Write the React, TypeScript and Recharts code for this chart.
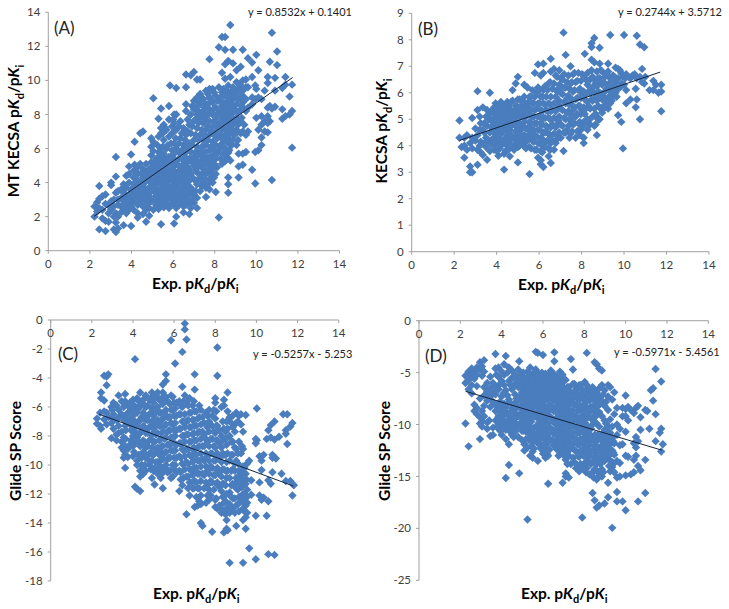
import { ScatterChart, Scatter, XAxis, YAxis } from "recharts"

// each row is [x, y, y, y...]
const columnsA: number[][] = [
  [2.22, 2.6, 2.0], [2.35, 2.3, 2.85], [2.45, 3.8, 1.25, 2.5, 3.05], [2.6, 3.2, 2.4, 1.9], [2.75, 1.15, 1.75, 2.75, 3.3],
  [2.9, 2.2, 2.65, 1.7], [3.02, 3.85, 4.0, 2.4, 2.9], [3.15, 3.0, 2.6, 2.0, 1.25], [3.25, 5.5, 4.35, 3.4, 2.2, 1.65, 1.1],
  [3.35, 3.5, 3.0, 2.7, 1.3, 2.0], [3.5, 3.6, 3.1, 2.6, 2.25], [3.62, 1.5, 3.9, 3.4, 2.9, 2.45], [3.75, 4.4, 3.7, 3.1, 2.7, 2.2],
  [3.88, 4.95, 4.5, 4.0, 3.3, 2.85, 2.4], [3.98, 5.65, 1.45, 3.6, 3.1, 2.6], [4.1, 4.7, 4.3, 3.9, 3.4, 2.9, 2.4], [4.15, 6.4, 5.05],
  [4.3, 4.95, 4.5, 4.1, 3.6, 3.2, 2.7, 2.2, 1.95], [4.42, 6.9, 5.1, 3.85, 3.35, 2.9], [4.55, 7.0, 4.8, 4.3, 3.9, 3.5, 2.6, 2.15],
  [4.7, 5.1, 4.55, 4.1, 3.3, 2.9, 2.4, 1.7], [4.85, 4.8, 4.4, 3.7, 3.2, 2.5, 2.05], [4.95, 6.6, 6.1, 5.6, 5.2, 4.2, 3.8, 2.9],
  [5.05, 8.95, 6.4, 5.85, 5.0, 4.6, 3.5, 2.4], [5.18, 5.4, 4.85, 4.3, 3.9, 3.2, 2.7], [5.3, 7.75, 6.7, 5.8, 5.1, 4.6, 4.1, 3.5, 3.0, 2.45],
  [5.42, 8.35, 7.2, 6.9, 6.0, 5.4, 4.9, 4.4, 3.85, 3.3, 2.7, 1.55], [5.55, 7.4, 6.5, 5.7, 5.2, 4.7, 4.15, 3.6, 3.05, 2.55],
  [5.68, 7.1, 6.0, 5.0, 4.45, 3.9, 3.3, 2.8], [5.8, 8.5, 7.7, 6.7, 5.5, 4.7, 4.1, 3.55, 2.5], [5.85, 9.7], [5.95, 7.3, 6.9, 5.9, 5.1, 4.4, 3.8, 3.0],
  [6.05, 8.0, 7.5, 6.3, 5.4, 4.7, 4.1, 3.4, 2.7, 1.6], [6.15, 9.55, 8.0, 7.1, 6.0, 5.1, 4.5, 3.8, 3.1, 2.5, 2.0], [6.35, 7.6, 6.6, 5.7, 4.9, 4.2, 3.55, 2.85],
  [6.5, 7.2, 6.2, 5.3, 4.7, 4.0, 3.3, 2.6, 2.25], [6.62, 10.35, 9.6, 8.6, 8.2, 6.8, 5.8, 5.0, 4.4, 3.7, 3.0, 2.7], [6.78, 7.4, 6.3, 5.4, 4.8, 4.1, 3.4, 2.8, 2.15],
  [6.85, 10.3, 8.0, 6.9, 5.8, 4.5, 3.7, 2.5], [7.0, 10.5, 8.8, 8.3, 7.6, 6.5, 5.5, 5.0, 4.2, 3.3, 2.8], [7.15, 10.05, 9.0, 8.0, 7.2, 6.1, 5.3, 4.6, 3.9, 3.1, 2.5],
  [7.3, 10.05, 9.2, 8.6, 7.8, 6.8, 5.8, 5.0, 4.3, 3.5], [7.45, 8.9, 8.2, 7.5, 6.5, 5.5, 4.8, 4.0], [7.58, 9.4, 8.6, 7.9, 7.1, 6.2, 5.2, 4.5, 3.7, 3.15],
  [7.75, 11.25, 9.5, 9.0, 8.3, 7.6, 6.8, 5.9, 5.0, 4.2, 3.6], [7.9, 9.5, 8.7, 8.0, 7.3, 6.4, 5.6, 4.8, 4.0], [8.05, 9.1, 8.4, 7.7, 7.0, 6.2, 5.4, 4.5, 3.45],
  [8.2, 11.95, 9.6, 8.8, 8.1, 7.4, 6.7, 5.9, 1.95], [8.35, 12.55, 10.45, 9.3, 8.5, 7.8, 7.1, 6.3, 5.1], [8.5, 12.55, 11.8, 10.95, 10.1, 9.1, 8.3, 7.6, 6.8, 6.0, 5.25],
  [8.65, 11.15, 9.7, 8.8, 8.1, 7.3, 6.6, 5.75, 4.3, 3.9, 3.4], [8.75, 13.25, 10.2, 9.2, 8.5, 7.8, 7.0, 6.2, 5.3], [8.88, 11.8, 11.0, 9.6, 8.9, 8.1, 7.4, 6.5],
  [9.05, 10.6, 9.9, 9.3, 8.6, 7.8, 7.1, 6.2], [9.15, 5.7, 4.95, 4.3], [9.25, 10.8, 9.7, 9.0, 8.3, 7.6, 6.9], [9.35, 11.8, 10.0, 9.4, 8.7, 7.0, 5.05, 5.7],
  [9.5, 10.05, 9.6, 8.9, 8.2, 6.8, 5.8], [9.6, 11.3, 9.6, 8.4, 7.0], [9.8, 11.05, 10.2, 9.0, 8.6, 4.75], [9.95, 9.7, 8.9, 5.8, 3.95], [10.0, 11.5, 9.5, 7.8],
  [10.1, 10.6, 9.0, 7.1, 5.9], [10.25, 8.9, 7.9, 7.4, 6.65, 6.2], [10.4, 9.4, 7.6, 7.0], [10.55, 10.2, 9.85, 8.4, 7.9, 7.5, 6.95], [10.65, 11.1, 8.5, 7.6],
  [10.75, 12.8, 8.35, 4.15], [10.9, 10.15, 9.4, 8.45], [11.0, 11.7, 10.9], [11.25, 9.55, 8.3, 7.75], [11.4, 10.2, 9.75, 7.9], [11.6, 9.05, 8.0],
  [11.72, 9.75, 8.2, 6.05],
]

// inner part of the solid blob in A
const fillA: number[][] = [
  [4.2, 3.15, 3.65, 4.7], [4.48, 4.55, 4.1, 3.1], [4.62, 4.55, 3.7, 3.1], [4.78, 4.3, 3.5, 2.75], [4.9, 4.55, 4.0, 3.45, 3.0], [5.1, 5.2, 4.75, 4.05, 3.7, 3.0],
  [5.24, 6.2, 5.1, 4.55, 4.1, 3.55, 3.0], [5.38, 5.6, 5.15, 4.15, 3.6, 3.1], [5.5, 6.9, 6.1, 4.95, 4.4, 3.35, 2.85], [5.62, 7.2, 5.45, 4.65, 3.75, 3.25],
  [5.75, 6.2, 5.25, 4.35, 3.8, 3.1], [5.9, 6.3, 5.3, 4.75, 4.2, 3.3, 2.75], [6.0, 7.7, 5.65, 4.9, 4.3, 3.7, 3.2], [6.12, 6.6, 5.8, 5.2, 4.35, 3.6, 2.9],
  [6.28, 7.3, 6.3, 5.4, 4.7, 4.0, 3.3, 2.7], [6.42, 6.9, 5.9, 5.0, 4.4, 3.7, 3.05], [6.58, 6.5, 5.5, 4.25, 3.5, 2.9], [6.7, 7.7, 7.0, 6.0, 5.2, 4.5, 3.85, 3.2],
  [6.92, 8.5, 7.3, 6.2, 5.2, 4.3, 3.5, 3.0], [7.08, 8.4, 7.7, 6.8, 5.8, 4.7, 4.1, 3.5], [7.22, 8.7, 8.2, 7.5, 6.5, 5.6, 4.95, 4.2], [7.38, 9.0, 8.0, 7.1, 6.1, 5.3, 4.5, 3.8],
  [7.52, 8.4, 7.7, 6.8, 5.8, 5.0, 4.2], [7.67, 9.2, 8.6, 8.0, 7.3, 6.5, 5.5, 4.7, 3.9], [7.82, 8.9, 8.1, 7.0, 6.1, 5.3, 4.5], [7.97, 9.3, 8.35, 7.6, 6.8, 5.9, 5.1, 4.3],
  [8.12, 8.8, 8.0, 7.3, 6.6, 5.7, 4.9], [8.28, 9.0, 8.2, 7.5, 6.8, 6.1, 5.4], [8.42, 9.5, 8.7, 8.0, 7.3, 6.5, 5.7], [8.58, 9.4, 8.55, 7.85, 7.1, 6.4, 5.5],
  [8.7, 9.0, 8.25, 7.6, 6.8, 5.9], [8.82, 9.4, 8.6, 7.8, 7.1, 6.2], [8.95, 9.1, 8.3, 7.6, 6.8], [9.12, 9.5, 8.9, 8.1, 7.4, 6.5], [9.3, 9.15, 8.5, 7.8], [9.42, 9.0, 8.3, 7.4],
]

const columnsB: number[][] = [
  [2.25, 4.95, 4.3], [2.35, 3.95], [2.48, 3.55, 4.0, 4.3], [2.6, 4.4, 3.85], [2.75, 3.0, 3.22, 4.1], [2.85, 3.0, 5.05, 3.9, 4.3], [3.0, 4.65, 4.2],
  [3.1, 6.06, 5.35, 3.85, 4.4, 3.28], [3.25, 4.85, 4.15, 3.75], [3.35, 5.45, 4.6, 3.65], [3.5, 5.1, 4.3, 3.95], [3.55, 5.35, 4.75, 3.47], [3.68, 6.0, 5.2, 4.5, 3.8],
  [3.8, 5.35, 4.9, 4.25], [3.95, 5.6, 5.2, 4.75, 4.35, 4.05], [4.08, 5.45, 5.05, 4.6, 4.2, 3.62], [4.2, 5.65, 5.25, 4.85, 4.45, 4.0], [4.35, 5.5, 5.1, 4.65, 4.25, 3.7, 3.1],
  [4.5, 5.65, 5.25, 4.8, 4.4, 4.0], [4.62, 5.4, 5.0, 4.6, 4.2, 3.6], [4.75, 6.1, 5.7, 5.2, 4.8, 4.35, 3.95], [4.9, 6.35, 5.5, 5.05, 4.55, 4.1], [5.0, 6.6, 5.75, 5.3, 4.85, 4.35, 3.95, 3.37],
  [5.15, 5.5, 5.1, 4.6, 4.15], [5.3, 6.3, 5.85, 5.35, 4.9, 4.4, 4.0], [5.45, 6.2, 5.6, 5.15, 4.65, 4.2], [5.55, 5.85, 5.4, 4.9, 4.45, 3.95, 2.93], [5.68, 6.1, 5.6, 5.1, 4.6, 4.2],
  [5.8, 6.75, 5.85, 5.35, 4.85, 4.4, 3.85], [5.95, 7.07, 6.2, 5.6, 5.1, 4.6, 4.1, 3.55], [6.08, 6.65, 5.85, 5.35, 4.85, 4.3, 3.8, 3.3, 3.45], [6.2, 7.1, 6.75, 6.1, 5.6, 5.05, 4.5, 3.95, 3.2],
  [6.33, 5.85, 5.35, 4.75, 4.15], [6.45, 6.35, 5.6, 5.05, 4.45, 3.9, 3.6], [6.55, 7.28, 6.8, 5.85, 5.3, 4.7, 4.1, 3.35], [6.7, 6.9, 6.35, 5.6, 5.05, 4.45, 3.85], [6.85, 6.6, 6.05, 5.4, 4.8, 4.25],
  [6.95, 6.85, 6.3, 5.7, 5.1, 4.5], [7.1, 6.5, 5.95, 5.35, 4.75], [7.15, 8.27, 3.8], [7.25, 7.43, 6.2, 5.6, 5.0, 4.5], [7.38, 6.65, 5.9, 5.3, 4.75], [7.48, 7.0, 6.35, 5.6, 5.0, 4.45],
  [7.6, 6.7, 6.05, 5.35, 4.8], [7.72, 6.4, 5.75, 5.1, 4.3], [7.85, 6.75, 6.1, 5.5, 4.85], [7.97, 6.45, 5.8, 5.2, 4.6], [8.1, 6.65, 6.05, 5.45, 4.9, 4.1, 4.3], [8.15, 7.47, 5.75, 5.2],
  [8.28, 6.75, 6.3, 5.65, 5.0, 4.6], [8.4, 6.5, 6.0, 5.4, 4.8], [8.47, 7.87, 7.73, 7.25, 6.85, 5.75], [8.6, 8.07, 7.15, 6.5, 6.0, 5.4, 4.75], [8.72, 6.8, 6.25, 5.7, 5.1, 4.4],
  [8.85, 7.7, 7.1, 6.55, 6.0, 5.45, 5.0], [8.97, 6.8, 6.3, 5.75, 5.25], [9.1, 6.6, 6.05, 5.55], [9.25, 7.1, 6.8, 6.3, 5.8, 5.4], [9.35, 8.18, 6.55, 6.05, 5.6], [9.48, 6.65, 6.2, 5.85],
  [9.6, 6.95, 6.4, 6.0], [9.72, 6.9, 6.55, 6.15, 5.15], [9.87, 6.75, 6.35, 4.9], [9.95, 6.6, 3.9], [10.0, 8.18, 6.3], [10.1, 6.7, 6.1, 5.6], [10.3, 6.55, 5.75],
  [10.4, 6.65], [10.55, 6.15, 5.45], [10.6, 8.15, 6.55, 5.75], [10.75, 7.82, 5.0], [10.85, 6.9, 6.4], [10.95, 7.72, 6.35], [11.0, 6.6], [11.2, 6.1], [11.38, 6.45, 6.1],
  [11.5, 6.3], [11.62, 6.0], [11.75, 6.3, 6.05, 5.3],
]

const fillB: number[][] = [
  [3.2, 5.1, 4.6, 4.0], [3.42, 4.85, 4.5, 4.1], [3.62, 5.0, 4.2], [3.75, 4.7, 4.05], [3.88, 5.45, 5.05, 4.5, 4.2, 3.85], [4.02, 5.3, 4.85, 4.5, 4.15, 3.8], [4.15, 5.4, 4.95, 4.65, 4.25, 3.9],
  [4.28, 5.3, 4.85, 4.55, 4.1], [4.42, 5.4, 5.0, 4.6, 4.15, 3.8], [4.55, 5.5, 5.05, 4.65, 4.25, 3.85], [4.68, 5.65, 5.2, 4.8, 4.4, 4.0], [4.82, 5.3, 4.85, 4.3, 3.85], [4.95, 5.5, 5.1, 4.7, 4.25],
  [5.08, 5.75, 5.3, 4.85, 4.4, 4.0], [5.22, 5.7, 5.25, 4.75, 4.35], [5.38, 5.55, 5.1, 4.65, 4.2, 3.9], [5.5, 5.65, 5.2, 4.7, 4.25], [5.62, 5.85, 5.35, 4.85, 4.4, 3.9], [5.75, 5.6, 5.1, 4.6, 4.15],
  [5.88, 6.0, 5.4, 4.85, 4.35, 3.85], [6.02, 6.1, 5.6, 5.1, 4.6, 4.1], [6.15, 5.85, 5.3, 4.8, 4.25, 3.75], [6.28, 6.25, 5.55, 5.05, 4.5, 3.95], [6.4, 6.1, 5.3, 4.7, 4.2], [6.52, 6.4, 5.55, 5.0, 4.4, 3.85],
  [6.62, 6.15, 5.35, 4.8, 4.2], [6.78, 6.65, 5.85, 5.3, 4.7, 4.1], [6.9, 6.15, 5.55, 4.95, 4.35], [7.02, 6.55, 6.0, 5.4, 4.8, 4.3], [7.18, 6.7, 6.2, 5.65, 5.05, 4.5], [7.32, 6.4, 5.8, 5.25, 4.6],
  [7.43, 6.15, 5.55, 5.0, 4.3], [7.55, 6.4, 5.75, 5.15, 4.55], [7.67, 6.75, 6.1, 5.45, 4.85], [7.8, 6.45, 5.8, 5.2, 4.55], [7.92, 6.15, 5.5, 4.9, 4.4], [8.02, 6.7, 5.95, 5.35, 4.7], [8.2, 6.5, 5.95, 5.4, 4.85],
  [8.33, 6.05, 5.5, 4.95], [8.52, 6.6, 6.2, 5.7, 5.1], [8.66, 6.35, 5.8, 5.2, 4.8], [8.78, 6.55, 6.05, 5.5, 5.0], [8.9, 6.85, 6.4, 5.9, 5.4], [9.05, 6.4, 5.85, 5.4], [9.18, 6.7, 6.15, 5.7], [9.3, 6.3, 5.85],
  [9.42, 6.45, 6.0, 5.7], [9.55, 6.6, 6.2], [9.65, 6.2, 5.85], [9.8, 6.85, 6.2], [10.05, 6.55], [10.2, 6.6], [10.5, 6.7], [10.75, 6.6],
]

const columnsC: number[][] = [
  [2.25, -6.8, -7.15], [2.4, -7.3, -6.4], [2.45, -5.0, -5.4, -7.5], [2.6, -3.85, -5.55, -6.3, -6.85], [2.72, -3.9, -4.5, -6.4, -7.2], [2.8, -3.75, -6.7],
  [2.95, -6.0, -7.1, -8.15], [3.05, -5.7, -6.5, -7.5], [3.2, -5.9, -6.9, -8.3, -7.9], [3.3, -5.2, -6.2, -7.3], [3.45, -5.6, -6.5, -7.7, -8.4, -8.8],
  [3.55, -6.0, -6.9, -8.1, -9.0, -9.5], [3.62, -5.1, -5.6, -7.3, -8.7, -9.3, -10.2], [3.75, -5.9, -6.4, -7.0, -8.9, -9.45], [3.9, -6.2, -6.8, -7.6, -8.3],
  [4.0, -5.5, -6.6, -7.2, -8.0, -8.7, -9.4], [4.1, -2.7, -6.0, -7.0, -7.7, -8.5, -11.5], [4.2, -5.4, -6.4, -7.3, -8.1, -9.7, -10.0, -11.65], [4.35, -5.0, -5.9, -6.9, -7.8, -8.7, -10.4, -10.8, -11.8],
  [4.5, -5.5, -6.4, -7.3, -8.3, -9.1, -10.1, -10.6], [4.62, -5.2, -6.0, -6.9, -7.8, -8.8, -9.5, -10.4], [4.8, -5.5, -6.5, -7.4, -8.3, -9.2, -10.0],
  [4.92, -5.0, -6.1, -7.0, -7.9, -8.8, -9.7, -10.9], [5.05, -5.4, -6.4, -7.4, -8.4, -9.2, -10.2, -11.35], [5.2, -5.0, -6.0, -6.9, -7.8, -8.8, -9.8, -10.6],
  [5.35, -6.4, -7.3, -8.2, -9.1, -10.1, -10.9], [5.45, -4.45, -5.0, -5.8, -6.8, -7.7, -8.7, -9.6, -10.5, -11.6], [5.6, -3.75, -4.2, -5.3, -6.2, -7.2, -8.1, -9.1, -10.0],
  [5.75, -5.7, -6.7, -7.6, -8.6, -9.5, -10.4], [5.85, -1.4, -5.2, -6.2, -7.1, -8.1, -9.0, -10.9], [6.0, -5.7, -6.6, -7.6, -8.5, -9.5, -10.3],
  [6.05, -3.0, -6.1, -7.1, -8.0, -9.0, -10.0], [6.25, -5.6, -6.5, -7.5, -8.5, -9.4, -10.4, -11.8], [6.4, -2.2, -4.6, -6.0, -7.0, -8.0, -8.9, -9.9, -11.4],
  [6.52, -0.25, -0.65, -5.2, -6.5, -7.4, -8.4, -9.4, -10.3], [6.6, -1.35, -5.7, -7.0, -7.9, -8.9, -9.8, -10.8, -13.4], [6.75, -5.4, -6.4, -7.4, -8.4, -9.3, -10.3, -11.2, -12.1],
  [6.9, -5.9, -6.9, -7.9, -8.9, -9.8, -10.7, -11.6], [7.0, -3.75, -4.8, -6.3, -7.3, -8.3, -9.2, -10.2, -11.1, -12.9], [7.15, -6.8, -7.8, -8.8, -9.7, -10.6, -11.6, -12.8],
  [7.3, -6.2, -7.2, -8.2, -9.2, -10.1, -11.1, -12.1, -12.7, -14.0], [7.38, -6.7, -7.7, -8.7, -9.6, -10.6, -14.2], [7.55, -6.4, -8.2, -9.2, -10.1, -11.2, -12.6],
  [7.7, -6.2, -7.0, -7.7, -8.7, -9.7, -10.6, -11.7, -12.4], [7.85, -6.6, -7.3, -8.2, -9.2, -10.2, -11.2, -14.6], [8.0, -5.4, -5.7, -6.8, -7.8, -8.8, -9.7, -10.7, -12.4, -12.9],
  [8.1, -1.9, -3.85, -7.3, -8.3, -9.2, -10.2, -11.2, -13.0], [8.3, -6.0, -8.0, -8.8, -9.8, -10.8, -11.8, -13.3], [8.42, -5.5, -5.9, -7.5, -9.3, -10.3, -11.3, -12.6, -14.65],
  [8.55, -7.0, -8.6, -9.8, -10.9, -12.0, -13.0, -13.8, -14.4], [8.6, -5.0, -6.3, -7.5, -9.2, -10.4, -14.5], [8.7, -6.7, -8.0, -9.7, -10.9, -11.9, -12.7, -13.3, -16.75],
  [8.85, -6.6, -7.4, -8.4, -9.3, -10.3, -11.3, -12.3, -13.0], [9.02, -6.4, -7.1, -8.9, -9.7, -10.9, -11.6, -12.8, -14.2], [9.15, -6.6, -8.4, -10.4, -11.2, -12.2, -13.2],
  [9.25, -6.5, -7.2, -9.2, -10.7, -11.5, -12.5], [9.35, -7.7, -8.9, -10.1, -11.0, -12.0, -13.0, -13.8, -16.75], [9.48, -6.55, -10.6, -11.3, -12.3, -12.8, -13.6, -14.4],
  [9.55, -9.9, -11.7, -12.6, -13.3], [9.65, -9.7, -15.75], [9.75, -11.05, -12.05], [9.97, -8.2, -8.5, -13.5, -16.5], [10.02, -6.1, -8.3], [10.15, -9.4, -11.2, -12.1],
  [10.25, -9.7, -10.35, -12.4], [10.35, -9.3, -12.25], [10.5, -8.2, -13.5], [10.58, -7.6, -11.05, -12.5, -16.15], [10.7, -7.25, -8.1, -11.3], [10.78, -9.3, -9.5, -10.5],
  [10.88, -7.0, -8.25, -16.2], [10.95, -9.55], [11.1, -8.05], [11.22, -10.6], [11.3, -6.5], [11.43, -7.6, -7.85, -11.1], [11.5, -6.5, -8.55], [11.65, -7.35, -11.1],
  [11.75, -7.1, -11.3, -12.1], [11.82, -11.4],
]

const fillC: number[][] = [
  [3.0, -6.2, -6.8], [3.3, -6.7, -7.8], [3.65, -6.6, -7.6, -8.2], [3.85, -5.7, -7.2, -8.6], [4.05, -5.9, -6.3, -7.4, -8.3, -9.1], [4.28, -5.6, -6.1, -7.0, -7.9, -8.4, -9.3],
  [4.42, -5.8, -6.7, -7.5, -8.5, -9.5, -10.0], [4.58, -5.9, -6.7, -7.6, -8.5, -9.3, -10.0], [4.72, -5.9, -6.9, -7.8, -8.7, -9.6], [4.87, -5.4, -6.4, -7.3, -8.2, -9.2, -10.3],
  [5.0, -5.7, -6.6, -7.5, -8.4, -9.3, -10.4], [5.12, -5.2, -6.1, -7.0, -7.9, -8.9, -9.8], [5.28, -5.5, -6.4, -7.3, -8.3, -9.3, -10.3], [5.4, -5.4, -6.9, -7.8, -8.7, -9.6, -10.6],
  [5.53, -5.5, -6.4, -7.3, -8.2, -9.2, -10.2], [5.68, -5.6, -6.7, -7.7, -8.6, -9.6, -10.5], [5.8, -5.8, -6.7, -7.6, -8.6, -9.5, -10.4], [5.93, -5.3, -6.2, -7.2, -8.1, -9.0, -10.0, -10.8],
  [6.12, -5.7, -6.6, -7.6, -8.6, -9.5, -10.5], [6.32, -5.9, -6.5, -7.5, -8.5, -9.5, -10.5, -11.0], [6.46, -5.6, -7.0, -8.0, -9.0, -10.0, -10.9], [6.68, -5.9, -6.9, -7.9, -8.9, -9.9, -10.8, -11.6],
  [6.82, -6.4, -7.4, -8.4, -9.4, -10.3, -11.2], [6.96, -5.6, -6.9, -7.8, -8.8, -9.7, -10.6, -11.6], [7.08, -6.3, -7.3, -8.3, -9.3, -10.2, -11.2, -12.2], [7.22, -5.9, -6.7, -7.7, -8.7, -9.7, -10.6, -11.6, -12.5],
  [7.46, -7.1, -7.9, -8.7, -9.7, -10.7, -11.6], [7.62, -6.6, -7.4, -8.4, -9.4, -10.4, -11.4, -12.1], [7.78, -7.2, -8.2, -9.2, -10.1, -11.1, -12.1], [7.93, -6.2, -7.7, -8.7, -9.7, -10.7, -11.7],
  [8.05, -6.3, -7.3, -8.3, -9.3, -10.3, -11.3, -12.3], [8.2, -7.6, -8.5, -9.5, -10.5, -11.5, -12.8], [8.36, -7.0, -8.3, -9.2, -10.3, -11.3, -12.2, -13.1], [8.5, -7.7, -8.2, -9.3, -10.4, -11.4, -12.5, -13.4],
  [8.78, -7.1, -8.4, -9.3, -10.4, -11.4, -12.2], [8.95, -7.7, -8.8, -9.9, -10.4, -11.3, -12.3, -13.3], [9.1, -7.0, -9.2, -9.9, -10.8, -11.7, -12.7], [9.3, -8.7, -10.5, -11.5, -12.5],
  [9.42, -10.2, -11.1, -12.0, -13.2], [9.52, -11.0, -12.2],
]

const columnsD: number[][] = [
  [2.25, -5.3, -6.0, -9.9], [2.4, -4.9, -5.7, -6.6, -12.1], [2.55, -4.6, -5.3, -6.2, -7.0], [2.68, -4.9, -5.6, -8.1, -8.7], [2.8, -4.5, -5.2, -6.3, -8.4, -9.0],
  [2.95, -4.0, -4.7, -7.5, -9.3, -9.9, -11.4], [3.05, -4.4, -5.3, -8.7, -9.7, -10.2], [3.15, -3.8, -4.9, -6.4, -7.2, -8.2, -9.2], [3.3, -6.0, -6.8, -7.7, -9.8, -10.4],
  [3.45, -5.4, -6.5, -7.3, -8.3, -11.1], [3.58, -6.0, -7.0, -7.8, -10.3, -11.0], [3.7, -3.2, -4.6, -6.3, -7.1, -8.7, -9.6], [3.85, -4.5, -5.4, -6.6, -8.2, -9.2, -10.1],
  [4.0, -4.9, -5.8, -7.3, -8.5, -9.4, -10.4, -11.0], [4.12, -4.2, -5.2, -6.2, -8.0, -9.0, -9.9], [4.2, -3.4, -6.7, -8.4, -10.5, -11.4, -15.15], [4.35, -4.5, -5.8, -7.6, -9.2, -10.0, -11.9, -13.9],
  [4.5, -4.8, -5.5, -6.6, -8.4, -9.5, -10.3, -11.0], [4.65, -5.2, -7.1, -7.9, -8.9, -9.8, -10.7], [4.8, -4.7, -5.6, -6.4, -7.4, -8.3, -9.2, -10.1, -11.2],
  [4.85, -3.9, -14.7], [4.98, -5.1, -6.0, -6.9, -7.8, -8.8, -9.7, -10.6, -11.5], [5.1, -5.5, -6.4, -7.3, -8.3, -9.2, -10.2, -11.9, -12.5], [5.25, -4.9, -5.8, -6.8, -7.7, -8.7, -9.7, -10.7, -12.2, -19.15],
  [5.38, -4.5, -6.3, -7.2, -8.2, -9.2, -10.2, -11.2, -13.0], [5.5, -5.1, -5.8, -6.7, -7.7, -8.7, -10.8, -11.7, -12.6, -13.2], [5.65, -3.0, -4.7, -6.2, -7.2, -8.2, -9.2, -10.2, -11.2],
  [5.75, -3.1, -5.0, -5.7, -6.7, -7.7, -8.8, -10.8, -11.8, -13.5], [5.88, -5.2, -6.2, -7.2, -8.3, -9.3, -10.3, -11.3, -12.3], [6.0, -3.3, -5.6, -6.6, -7.7, -9.0, -9.8, -10.9, -12.8],
  [6.12, -5.1, -6.1, -7.1, -8.3, -9.4, -10.4, -11.4, -12.4, -13.2], [6.25, -5.6, -6.6, -7.5, -8.7, -9.9, -10.9, -13.0, -15.7], [6.38, -4.8, -5.3, -6.2, -7.1, -8.2, -9.3, -10.4, -11.5],
  [6.52, -5.1, -5.8, -6.7, -7.7, -8.7, -9.8, -10.9, -12.0], [6.55, -3.05, -3.9], [6.68, -5.4, -6.3, -7.2, -8.2, -9.3, -10.3, -11.4, -12.4], [6.82, -4.9, -5.8, -6.8, -7.8, -8.8, -9.8, -11.0, -12.9],
  [6.95, -5.2, -6.3, -7.3, -8.3, -9.4, -10.5, -11.6, -12.5, -15.6], [7.1, -5.7, -7.0, -8.0, -9.0, -10.0, -11.1, -12.2, -13.4, -14.7, -15.0], [7.25, -6.4, -7.5, -8.6, -9.7, -10.7, -11.7, -13.0, -15.1],
  [7.35, -3.7, -6.9, -8.0, -9.1, -10.2, -11.3, -12.3, -13.8], [7.45, -4.7, -6.1, -7.5, -8.6, -9.7, -10.8, -11.9, -13.2], [7.6, -6.6, -7.0, -8.1, -9.2, -10.3, -11.4, -12.6, -14.2],
  [7.75, -6.2, -7.6, -8.6, -9.7, -10.8, -11.9, -13.1, -14.5], [7.9, -6.6, -7.1, -8.2, -9.2, -10.3, -11.4, -12.5, -18.95], [8.02, -5.9, -7.7, -8.7, -9.8, -10.9, -12.0, -13.7],
  [8.12, -3.1, -6.2, -7.2, -8.3, -9.3, -10.4, -11.5, -12.6, -14.2], [8.25, -6.7, -7.7, -8.8, -10.9, -12.0, -13.1, -14.8], [8.4, -6.4, -7.2, -8.3, -10.0, -11.4, -12.5, -13.6, -14.6, -16.6],
  [8.5, -4.0, -6.8, -7.7, -9.1, -11.0, -12.0, -13.1, -14.3, -17.3], [8.6, -4.2, -6.9, -8.3, -9.9, -11.6, -12.7, -13.8, -15.3, -18.0], [8.72, -4.6, -6.5, -7.3, -8.8, -10.2, -11.2, -12.4, -13.4, -14.9, -17.8],
  [8.85, -4.8, -6.2, -7.7, -9.2, -10.9, -12.0, -13.0, -14.3, -15.0], [8.98, -6.7, -8.2, -9.6, -10.5, -11.6, -12.7, -13.5, -17.6], [9.15, -6.2, -7.3, -8.6, -10.2, -11.3, -12.3, -13.3, -15.6, -17.0],
  [9.25, -6.4, -9.5, -10.8, -11.9, -12.9, -14.5], [9.35, -7.6, -10.2, -11.3, -12.5, -13.6, -14.1, -19.95], [9.45, -6.9, -9.0, -11.8, -12.9, -14.6], [9.58, -8.4, -10.0, -11.0, -13.5, -15.1, -16.5, -17.4],
  [9.72, -10.4, -12.0, -13.7, -15.0], [9.85, -8.4, -9.2, -11.9, -17.4], [10.0, -7.2, -8.5, -9.2, -10.7, -13.0, -14.9, -18.25], [10.12, -8.3, -9.6, -13.1], [10.25, -8.6, -14.8],
  [10.4, -8.9, -11.8, -13.4, -14.6], [10.5, -8.4, -11.2, -12.2, -13.0], [10.6, -8.2, -11.6, -14.0, -17.4], [10.72, -9.3, -10.5, -14.4], [10.95, -8.6, -13.4, -16.6], [11.05, -8.7],
  [11.15, -10.4], [11.22, -6.7], [11.33, -6.5, -7.7], [11.45, -4.65, -9.0, -11.6], [11.65, -10.8], [11.72, -5.85, -10.4, -12.6], [11.8, -11.9],
]

const fillD: number[][] = [
  [3.4, -6.9, -9.6], [3.75, -5.2, -6.7, -8.2, -10.2], [3.92, -6.1, -7.8, -8.8, -9.7, -10.6], [4.08, -7.0, -8.6, -9.5, -10.4], [4.28, -5.0, -7.2, -8.0, -8.9, -9.7, -10.3], [4.42, -6.2, -7.9, -8.8, -9.8, -10.7],
  [4.58, -5.5, -6.2, -8.4, -9.3, -10.2, -11.2], [4.72, -6.0, -7.5, -8.4, -9.3, -10.3], [4.9, -5.4, -6.4, -7.3, -8.3, -9.2, -10.2], [5.05, -5.0, -5.9, -6.9, -7.8, -8.7, -9.7, -10.6],
  [5.18, -6.0, -6.9, -7.8, -8.7, -9.7, -10.7, -11.4], [5.32, -5.3, -6.3, -7.3, -8.3, -9.3, -10.3, -11.5], [5.44, -5.6, -6.8, -7.7, -8.7, -9.7, -10.7, -12.1], [5.57, -5.4, -6.2, -7.2, -8.2, -9.2, -10.3, -11.3, -12.3],
  [5.7, -5.3, -6.3, -7.2, -8.2, -9.3, -10.3, -11.3], [5.82, -5.7, -6.7, -7.7, -8.7, -9.8, -10.8, -11.8], [5.95, -5.0, -6.1, -7.1, -8.1, -9.3, -10.3, -11.3, -12.2], [6.06, -5.6, -6.6, -7.7, -8.7, -9.9, -10.9, -11.9],
  [6.18, -5.6, -6.6, -7.6, -8.8, -9.9, -10.9, -11.9, -12.8], [6.32, -5.1, -6.1, -7.0, -8.1, -9.2, -10.3, -11.4, -12.4], [6.45, -5.6, -6.5, -7.5, -8.5, -9.5, -10.5, -11.5], [6.6, -5.8, -6.8, -7.7, -8.7, -9.8, -10.9, -11.9],
  [6.75, -5.9, -6.8, -7.7, -8.7, -9.8, -10.8, -11.9, -13.0], [6.88, -5.5, -6.3, -7.3, -8.3, -9.3, -10.3, -11.4, -12.4], [7.02, -5.8, -6.8, -7.8, -8.8, -9.9, -11.0, -12.0, -13.0], [7.18, -6.4, -7.5, -8.5, -9.5, -10.6, -11.6, -12.7, -13.8],
  [7.3, -7.0, -8.0, -9.1, -10.2, -11.2, -12.3], [7.52, -6.1, -7.0, -8.0, -9.2, -10.2, -11.3, -12.4, -13.6], [7.68, -6.6, -7.5, -8.7, -9.7, -10.8, -11.9, -13.0, -14.0], [7.82, -6.2, -7.1, -8.2, -9.3, -10.3, -11.4, -12.5, -13.8],
  [7.96, -7.5, -8.8, -9.8, -10.8, -11.9, -13.0, -14.2], [8.08, -6.7, -7.8, -8.9, -10.0, -11.0, -12.0, -13.1, -14.6], [8.18, -7.3, -9.3, -10.3, -11.4, -12.5, -13.6], [8.32, -7.2, -8.3, -9.4, -10.4, -11.5, -12.6, -13.8],
  [8.45, -7.6, -8.6, -9.6, -11.5, -12.6, -13.6, -15.1], [8.55, -7.2, -8.2, -9.2, -11.0, -12.1, -13.2, -14.4], [8.65, -7.6, -11.0, -12.2, -13.3, -14.5], [8.78, -8.0, -11.4, -12.6, -13.8], [8.92, -7.1, -11.0, -12.2, -13.1, -14.6],
  [9.05, -7.8, -9.9, -11.1, -12.2, -13.2], [9.2, -10.8, -11.9, -12.9, -14.0], [9.4, -11.6, -12.7, -13.8],
]

const trendA = [{ x: 2.2, y: 2.02 }, { x: 11.75, y: 10.17 }]
const trendB = [{ x: 2.25, y: 4.2 }, { x: 11.7, y: 6.78 }]
const trendC = [{ x: 2.35, y: -6.49 }, { x: 11.8, y: -11.45 }]
const trendD = [{ x: 2.25, y: -6.8 }, { x: 11.75, y: -12.47 }]

const xTicks = [0, 2, 4, 6, 8, 10, 12, 14]
const yTicksA = [0, 2, 4, 6, 8, 10, 12, 14]
const yTicksB = [0, 1, 2, 3, 4, 5, 6, 7, 8, 9]
const yTicksC = [0, -2, -4, -6, -8, -10, -12, -14, -16, -18]
const yTicksD = [0, -5, -10, -15, -20, -25]

const BLUE = "#4a7dbd"
const AXIS = "#a0a0a0"
const FONT = "Lato, 'Open Sans', sans-serif"

const toPoints = (...lists: number[][][]) =>
  lists.flat().flatMap(([x, ...ys]) => ys.map((y) => ({ x, y })))

const Diamond = (props: any) => {
  const { cx, cy } = props
  const r = 4.2
  return <path d={`M${cx},${cy - r}L${cx + r},${cy}L${cx},${cy + r}L${cx - r},${cy}Z`} fill={BLUE} />
}

const Nothing = () => null

// one panel, the plot box is given in page pixels
function Panel({ box, points, trend, yDomain, yTicks, topAxis }: any) {
  const [l, t, r, b] = box
  const w = r + 10
  const h = b + 24
  return (
    <div style={{ position: "absolute", left: 0, top: 0 }}>
      <ScatterChart
        width={w}
        height={h}
        margin={{ left: 0, top: t, right: w - r, bottom: topAxis ? h - b : 0 }}
        style={{ position: "absolute", left: 0, top: 0 }}
      >
        <XAxis
          type="number"
          dataKey="x"
          domain={[0, 14]}
          ticks={xTicks}
          interval={0}
          orientation={topAxis ? "top" : "bottom"}
          mirror={topAxis}
          height={topAxis ? 20 : h - b}
          stroke={AXIS}
          tickSize={3}
          tickMargin={6}
          tick={{ fill: "#404040", fontSize: 11.5, fontFamily: FONT }}
        />
        <YAxis
          type="number"
          dataKey="y"
          domain={yDomain}
          ticks={yTicks}
          interval={0}
          width={l}
          stroke={AXIS}
          tickSize={3}
          tickMargin={5}
          tick={{ fill: "#404040", fontSize: 11.5, fontFamily: FONT }}
        />
        <Scatter data={points} shape={Diamond} isAnimationActive={false} />
        <Scatter data={trend} shape={Nothing} line={{ stroke: "#14233a", strokeWidth: 1 }} isAnimationActive={false} />
      </ScatterChart>
    </div>
  )
}

const XTitle = ({ left, top }: { left: number; top: number }) => (
  <div style={{ position: "absolute", left, top, font: `bold 15.5px ${FONT}`, color: "#000", whiteSpace: "nowrap" }}>
    Exp. p<i>K</i><sub style={{ fontSize: 11 }}>d</sub>/p<i>K</i><sub style={{ fontSize: 11 }}>i</sub>
  </div>
)

const YTitle = ({ cx, cy, children }: any) => (
  <div
    style={{
      position: "absolute",
      left: cx,
      top: cy,
      transform: "translate(-50%, -50%) rotate(-90deg)",
      font: `bold 15.5px ${FONT}`,
      color: "#000",
      whiteSpace: "nowrap",
    }}
  >
    {children}
  </div>
)

const Note = ({ left, top, size, children }: any) => (
  <div style={{ position: "absolute", left, top, fontFamily: FONT, fontSize: size, color: "#222", whiteSpace: "nowrap", lineHeight: 1 }}>
    {children}
  </div>
)

const pkTitle = (name: string) => (
  <>
    {name} p<i>K</i><sub style={{ fontSize: 11 }}>d</sub>/p<i>K</i><sub style={{ fontSize: 11 }}>i</sub>
  </>
)

export default function App() {
  return (
    <div style={{ position: "absolute", left: 0, top: 0, width: 729, height: 609, overflow: "hidden", background: "#fff" }}>
      <Panel box={[48.3, 12.3, 339.5, 250.7]} points={toPoints(columnsA, fillA)} trend={trendA} yDomain={[0, 14]} yTicks={yTicksA} />
      <Panel box={[411.7, 13.3, 709, 251.7]} points={toPoints(columnsB, fillB)} trend={trendB} yDomain={[0, 9]} yTicks={yTicksB} />
      <Panel box={[50.7, 320, 338.7, 581]} points={toPoints(columnsC, fillC)} trend={trendC} yDomain={[-18, 0]} yTicks={yTicksC} topAxis />
      <Panel box={[419, 320.7, 708.3, 580.3]} points={toPoints(columnsD, fillD)} trend={trendD} yDomain={[-25, 0]} yTicks={yTicksD} topAxis />

      <Note left={54} top={19} size={17}>(A)</Note>
      <Note left={418} top={20} size={17}>(B)</Note>
      <Note left={58} top={345} size={17}>(C)</Note>
      <Note left={425} top={347} size={17}>(D)</Note>

      <Note left={248} top={6} size={11}>y = 0.8532x + 0.1401</Note>
      <Note left={618} top={6} size={11}>y = 0.2744x + 3.5712</Note>
      <Note left={253} top={348} size={11}>y = -0.5257x - 5.253</Note>
      <Note left={614} top={346} size={11}>y = -0.5971x - 5.4561</Note>

      <XTitle left={152} top={274} />
      <XTitle left={518} top={275} />
      <XTitle left={153} top={584} />
      <XTitle left={521} top={584} />

      <YTitle cx={15} cy={131}>{pkTitle("MT KECSA")}</YTitle>
      <YTitle cx={383} cy={131}>{pkTitle("KECSA")}</YTitle>
      <YTitle cx={15} cy={451}>Glide SP Score</YTitle>
      <YTitle cx={384} cy={451}>Glide SP Score</YTitle>
    </div>
  )
}
